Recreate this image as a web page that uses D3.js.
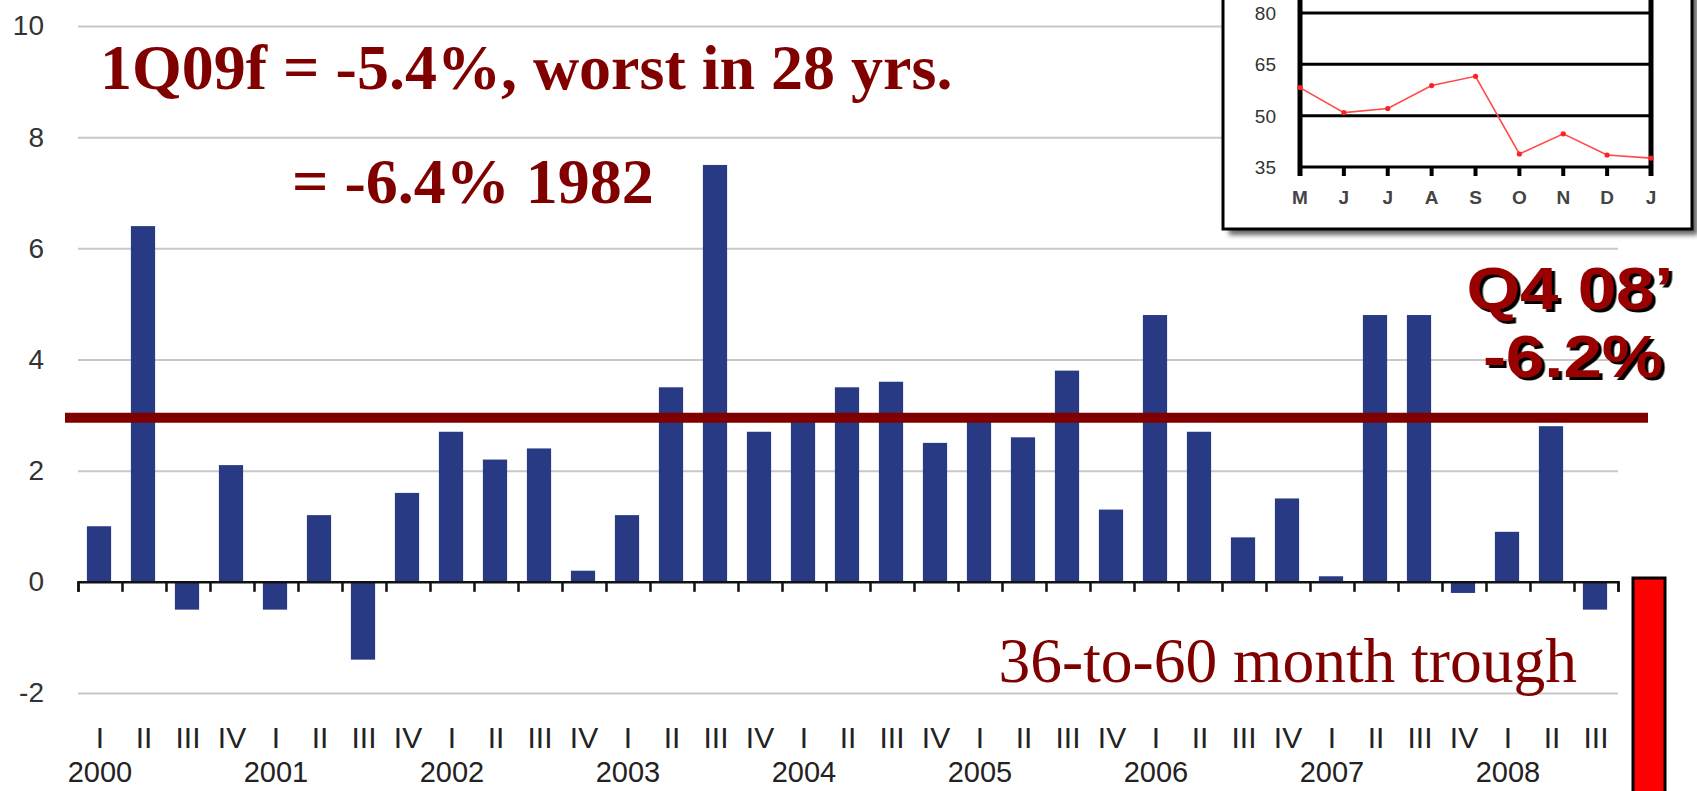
<!DOCTYPE html>
<html><head><meta charset="utf-8">
<script src="https://cdn.jsdelivr.net/npm/d3@7"></script>
<style>body{margin:0;background:#fff;overflow:hidden} svg{display:block}</style>
</head><body>
<svg id="c" width="1697" height="791"></svg>
<script>
// ---- data ----
const years = ["2000","2001","2002","2003","2004","2005","2006","2007","2008"];
const quarterLabels = ["I","II","III","IV","I","II","III","IV","I","II","III","IV",
  "I","II","III","IV","I","II","III","IV","I","II","III","IV","I","II","III","IV",
  "I","II","III","IV","I","II","III"];
const gdpGrowth = [1.0, 6.4, -0.5, 2.1, -0.5, 1.2, -1.4, 1.6, 2.7, 2.2, 2.4, 0.2,
  1.2, 3.5, 7.5, 2.7, 3.0, 3.5, 3.6, 2.5, 3.0, 2.6, 3.8, 1.3, 4.8, 2.7, 0.8, 1.5,
  0.1, 4.8, 4.8, -0.2, 0.9, 2.8, -0.5];
const yTicks = [-2, 0, 2, 4, 6, 8, 10];
const referenceLevel = 2.95;
const insetMonths = ["M","J","J","A","S","O","N","D","J"];
const insetValues = [58.2, 50.9, 52.1, 58.8, 61.5, 38.8, 44.7, 38.5, 37.6];
const insetTicks = [35, 50, 65, 80];

// ---- main chart ----
const svg = d3.select("#c");
const left = 78, right = 1618;
const x = d3.scaleBand().domain(d3.range(gdpGrowth.length)).range([left, right])
  .paddingInner(0.45).paddingOuter(0.225);
const xb = d3.scaleLinear().domain([0, gdpGrowth.length]).range([left, right]);
const y = d3.scaleLinear().domain([-2, 10]).range([693, 26]);

// gridlines
const grid = svg.append("g").attr("transform", `translate(${left},0)`)
  .call(d3.axisLeft(y).tickValues(yTicks.filter(d => d !== 0)).tickSize(-(right - left)).tickFormat(""));
grid.select(".domain").remove();
grid.selectAll("line").attr("stroke", "#c8c8c8").attr("stroke-width", 2);

// y labels
const yl = svg.append("g").attr("transform", `translate(${left},0)`)
  .call(d3.axisLeft(y).tickValues(yTicks).tickSize(0).tickPadding(34).tickFormat(d => String(d)));
yl.select(".domain").remove();
yl.selectAll("text").attr("font-family", "Liberation Sans, Arial, sans-serif")
  .attr("font-size", 28).attr("fill", "#333");

// bars
svg.append("g").selectAll("rect").data(gdpGrowth).join("rect")
  .attr("x", (d, i) => x(i) - 1)
  .attr("width", x.bandwidth())
  .attr("y", d => y(Math.max(0, d)))
  .attr("height", d => Math.abs(y(d) - y(0)))
  .attr("fill", "#283a84");

// x axis with ticks at band boundaries
const xa = svg.append("g").attr("transform", `translate(0,${y(0)})`)
  .call(d3.axisBottom(xb).tickValues(d3.range(gdpGrowth.length + 1)).tickSize(10).tickSizeOuter(10).tickFormat(""));
xa.select(".domain").attr("stroke", "#111").attr("stroke-width", 2.5);
xa.selectAll("line").attr("stroke", "#111").attr("stroke-width", 2.5);

// quarter labels
svg.append("g").selectAll("text").data(quarterLabels).join("text")
  .attr("x", (d, i) => x(i) + x.bandwidth() / 2)
  .attr("y", 737).attr("dy", "0.36em")
  .attr("text-anchor", "middle")
  .attr("font-family", "Liberation Sans, Arial, sans-serif").attr("font-size", 30)
  .attr("fill", "#222").text(d => d);

// year labels (centered under first quarter)
svg.append("g").selectAll("text").data(years).join("text")
  .attr("x", (d, i) => x(i * 4) + x.bandwidth() / 2)
  .attr("y", 772).attr("dy", "0.36em")
  .attr("text-anchor", "middle")
  .attr("font-family", "Liberation Sans, Arial, sans-serif").attr("font-size", 29)
  .attr("fill", "#222").text(d => d);

// reference line
svg.append("line").attr("x1", 65).attr("x2", 1648)
  .attr("y1", y(referenceLevel)).attr("y2", y(referenceLevel))
  .attr("stroke", "#800000").attr("stroke-width", 10);

// ---- inset ----
const defs = svg.append("defs");
defs.append("filter").attr("id", "blur").append("feGaussianBlur").attr("stdDeviation", 2.5);
defs.append("filter").attr("id", "tshadow").attr("x", "-10%").attr("y", "-10%").attr("width", "130%").attr("height", "130%")
  .append("feDropShadow").attr("dx", 3).attr("dy", 3).attr("stdDeviation", 0.4)
  .attr("flood-color", "#000").attr("flood-opacity", 1);
const ib = { x: 1223, y: -20, w: 469, h: 249 };
svg.append("rect").attr("x", ib.x + 6).attr("y", ib.y + 6).attr("width", ib.w).attr("height", ib.h)
  .attr("fill", "#666").attr("filter", "url(#blur)");
svg.append("rect").attr("x", ib.x).attr("y", ib.y).attr("width", ib.w).attr("height", ib.h)
  .attr("fill", "#fff").attr("stroke", "#000").attr("stroke-width", 3);

const xi = d3.scalePoint().domain(d3.range(insetMonths.length)).range([1300, 1651]);
const yi = d3.scaleLinear().domain([35, 80]).range([167, 13]);
const ig = svg.append("g");
ig.selectAll("line.h").data(insetTicks).join("line").attr("class", "h")
  .attr("x1", 1300).attr("x2", 1651).attr("y1", d => yi(d)).attr("y2", d => yi(d))
  .attr("stroke", "#000").attr("stroke-width", 3);
ig.selectAll("line.t").data(d3.range(insetMonths.length)).join("line").attr("class", "t")
  .attr("x1", d => xi(d)).attr("x2", d => xi(d)).attr("y1", yi(35)).attr("y2", yi(35) + 9)
  .attr("stroke", "#000").attr("stroke-width", 4);
ig.selectAll("line.v").data([0, insetMonths.length - 1]).join("line").attr("class", "v")
  .attr("x1", d => xi(d)).attr("x2", d => xi(d)).attr("y1", ib.y).attr("y2", yi(35) + 9)
  .attr("stroke", "#000").attr("stroke-width", 5);
ig.selectAll("text.y").data(insetTicks).join("text").attr("class", "y")
  .attr("x", 1276).attr("y", d => yi(d)).attr("dy", "0.36em").attr("text-anchor", "end")
  .attr("font-family", "Liberation Sans, Arial, sans-serif").attr("font-size", 19).attr("fill", "#333")
  .text(d => d);
ig.selectAll("text.m").data(insetMonths).join("text").attr("class", "m")
  .attr("x", (d, i) => xi(i)).attr("y", 197).attr("dy", "0.36em").attr("text-anchor", "middle")
  .attr("font-family", "Liberation Sans, Arial, sans-serif").attr("font-weight", "bold")
  .attr("font-size", 19).attr("fill", "#444").text(d => d);
ig.append("path").datum(insetValues)
  .attr("d", d3.line().x((d, i) => xi(i)).y(d => yi(d)))
  .attr("fill", "none").attr("stroke", "#ff4a4a").attr("stroke-width", 1.6);
ig.selectAll("circle").data(insetValues).join("circle")
  .attr("cx", (d, i) => xi(i)).attr("cy", d => yi(d)).attr("r", 2.6).attr("fill", "#ff2020");

// ---- annotations ----
const serif = "Liberation Serif, Times New Roman, serif";
svg.append("text").attr("x", 100).attr("y", 89)
  .attr("font-family", serif).attr("font-weight", "bold").attr("font-size", 64)
  .attr("fill", "#800000").text("1Q09f = -5.4%, worst in 28 yrs.");
svg.append("text").attr("x", 292).attr("y", 203)
  .attr("font-family", serif).attr("font-weight", "bold").attr("font-size", 64)
  .attr("fill", "#800000").text("= -6.4% 1982");
svg.append("text").attr("x", 1577).attr("y", 682).attr("text-anchor", "end")
  .attr("font-family", serif).attr("font-size", 63.5)
  .attr("fill", "#800000").text("36-to-60 month trough");

const sans = "Liberation Sans, Arial, sans-serif";
[["Q4 08\u2019", 309, 1570], ["-6.2%", 377, 1573]].forEach(([t, yy, cx]) => {
  const g = svg.append("g").attr("transform", `translate(${cx},${yy}) scale(1.15,1)`);
  g.append("text").attr("x", 0).attr("y", 0).attr("text-anchor", "middle")
    .attr("font-family", sans).attr("font-weight", "bold").attr("font-size", 60)
    .attr("fill", "#990000").attr("filter", "url(#tshadow)").text(t);
});

// red trough bar
svg.append("rect").attr("x", 1633).attr("y", 578).attr("width", 32).attr("height", 240)
  .attr("fill", "#ff0000").attr("stroke", "#000").attr("stroke-width", 3);
</script>
</body></html>
